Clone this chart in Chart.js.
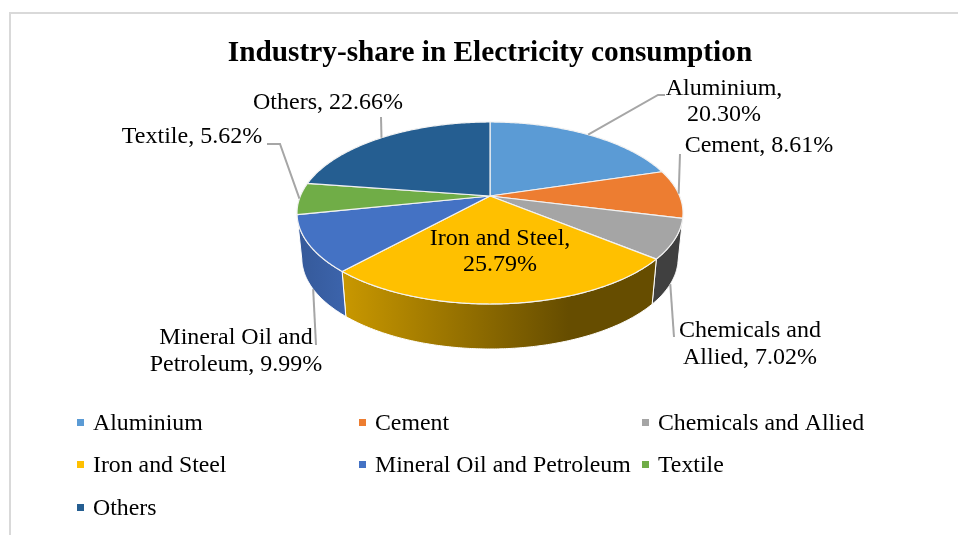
<!DOCTYPE html>
<html>
<head>
<meta charset="utf-8">
<title>Industry-share in Electricity consumption</title>
<script src="https://cdn.jsdelivr.net/npm/chart.js@4"></script>
<style>
html,body{margin:0;padding:0;width:958px;height:535px;overflow:hidden;background:#fff;}
#frame{position:absolute;left:9px;top:12px;width:960px;height:530px;border-top:2px solid #d9d9d9;border-left:2px solid #d9d9d9;}
#share_chart{position:absolute;left:0;top:0;}
</style>
</head>
<body>
<div id="frame"></div>
<canvas id="share_chart" width="980" height="535"></canvas>
<script>
const categories = ['Aluminium','Cement','Chemicals and Allied','Iron and Steel','Mineral Oil and Petroleum','Textile','Others'];
const shares = [20.30,8.61,7.02,25.79,9.99,5.62,22.66];
const colors = ['#5b9bd5','#ed7d31','#a5a5a5','#ffc000','#4472c4','#70ad47','#255e91'];

// side wall shading, stops are [position across the slice, brightness]
const wallShades = [
    [[0,.4],[1,.4]],
    [[0,.4],[1,.4]],
    [[0,.39],[1,.39]],
    [[0,.79],[.72,.4],[1,.4]],
    [[0,.78],[1,.88]],
    [[0,.78],[1,.78]],
    [[0,.78],[1,.78]]
];

// where the data labels sit: line centres, and where the text wraps
const labelSpots = [
    {x:724,y:[89,115],cut:', '},
    {x:759,y:[146]},
    {x:750,y:[331,358],cut:'and '},
    {x:500,y:[239,265],cut:', '},
    {x:236,y:[338,365],cut:'and '},
    {x:192,y:[137]},
    {x:328,y:[103]}
];
// leader end points, null for the label on the slice; fromBase = starts on the lower rim
const leaders = [
    {to:[[658,95],[665,95]]},
    {to:[[680,154]]},
    {to:[[674,337]],fromBase:true},
    null,
    {to:[[316,345]],fromBase:true},
    {to:[[280,144],[267,144]]},
    {to:[[381,117]]}
];

const SERIF = '"Liberation Serif","Times New Roman",serif';
const STRETCH_X = 1.58, STRETCH_Y = 0.7317, TILT = 0.187, BASE_SCALE = 0.975, BASE_DROP = 45;

// perspective view of the pie disc, angle comes from the arc element
function project(arc, angle, base){
    const u = Math.cos(angle), v = Math.sin(angle), d = 1-TILT*v, s = base?BASE_SCALE:1;
    return {
        x: arc.x+s*STRETCH_X*arc.outerRadius*u/d,
        y: arc.y+STRETCH_Y*arc.outerRadius*v/d+(base?BASE_DROP:0)
    };
}
function rimAngles(arc){
    const out = [], n = Math.max(2,Math.ceil((arc.endAngle-arc.startAngle)/0.01));
    for(let i=0;i<=n;i++) out.push(arc.startAngle+(arc.endAngle-arc.startAngle)*i/n);
    return out;
}
function shade(hex,f){
    const n = parseInt(hex.slice(1),16);
    return `rgb(${Math.round((n>>16)*f)},${Math.round(((n>>8)&255)*f)},${Math.round((n&255)*f)})`;
}

const pie3d = {
    id:'pie3d',
    beforeDatasetDraw(chart){
        const ctx = chart.ctx, arcs = chart.getDatasetMeta(0).data;
        ctx.save();
        ctx.lineJoin = 'round';
        arcs.forEach((arc,i)=>{
            // only slices facing the viewer show a wall
            if(Math.sin((arc.startAngle+arc.endAngle)/2)<0.3) return;
            const angles = rimAngles(arc);
            const top = angles.map(a=>project(arc,a,false)), low = angles.map(a=>project(arc,a,true)).reverse();
            const pts = top.concat(low), xs = pts.map(p=>p.x);
            const g = ctx.createLinearGradient(Math.min(...xs),0,Math.max(...xs),0);
            wallShades[i].forEach(s=>g.addColorStop(s[0],shade(colors[i],s[1])));
            ctx.beginPath();
            pts.forEach((p,j)=>j?ctx.lineTo(p.x,p.y):ctx.moveTo(p.x,p.y));
            ctx.closePath();
            ctx.fillStyle = g;
            ctx.fill();
            ctx.strokeStyle = '#fff';
            ctx.lineWidth = 1;
            ctx.stroke();
        });
        arcs.forEach((arc,i)=>{
            ctx.beginPath();
            ctx.moveTo(arc.x,arc.y);
            rimAngles(arc).forEach(a=>{const p = project(arc,a,false);ctx.lineTo(p.x,p.y);});
            ctx.closePath();
            ctx.fillStyle = colors[i];
            ctx.fill();
            ctx.strokeStyle = '#f2f2f2';
            ctx.lineWidth = 1.2;
            ctx.stroke();
        });
        ctx.restore();
        return false;
    },
    afterDraw(chart){
        const ctx = chart.ctx, arcs = chart.getDatasetMeta(0).data;
        ctx.save();
        // leaders
        ctx.strokeStyle = '#a6a6a6';
        ctx.lineWidth = 2;
        arcs.forEach((arc,i)=>{
            if(!leaders[i]) return;
            const start = project(arc,(arc.startAngle+arc.endAngle)/2,leaders[i].fromBase);
            ctx.beginPath();
            ctx.moveTo(start.x,start.y);
            leaders[i].to.forEach(p=>ctx.lineTo(p[0],p[1]));
            ctx.stroke();
        });
        // data labels
        ctx.fillStyle = '#000';
        ctx.textAlign = 'center';
        ctx.textBaseline = 'middle';
        ctx.font = `24px ${SERIF}`;
        categories.forEach((c,i)=>{
            const text = `${c}, ${shares[i].toFixed(2)}%`, spot = labelSpots[i];
            let lines = [text];
            if(spot.cut){
                const at = text.indexOf(spot.cut)+spot.cut.length;
                lines = [text.slice(0,at).trim(),text.slice(at)];
            }
            lines.forEach((l,j)=>ctx.fillText(l,spot.x,spot.y[j]));
        });
        // legend, three columns
        const cols = [77,359,642], rows = [424,466,509];
        ctx.textAlign = 'left';
        ctx.font = `23.8px ${SERIF}`;
        categories.forEach((c,i)=>{
            const x = cols[i%3], y = rows[Math.floor(i/3)];
            ctx.fillStyle = colors[i];
            ctx.fillRect(x,y-5,7,7);
            ctx.fillStyle = '#000';
            ctx.fillText(c,x+16,y);
        });
        ctx.restore();
    }
};

new Chart(document.getElementById('share_chart'),{
    type:'pie',
    data:{
        labels:categories,
        datasets:[{
            data:shares,
            backgroundColor:colors,
            radius:120
        }]
    },
    options:{
        responsive:false,
        animation:false,
        events:[],
        layout:{padding:{top:36,bottom:214.2}},
        plugins:{
            legend:{display:false},
            tooltip:{enabled:false},
            title:{
                display:true,
                text:'Industry-share in Electricity consumption',
                color:'#000',
                padding:0,
                font:{family:SERIF,size:29.3,weight:'bold'}
            }
        }
    },
    plugins:[pie3d]
});
</script>
</body>
</html>
